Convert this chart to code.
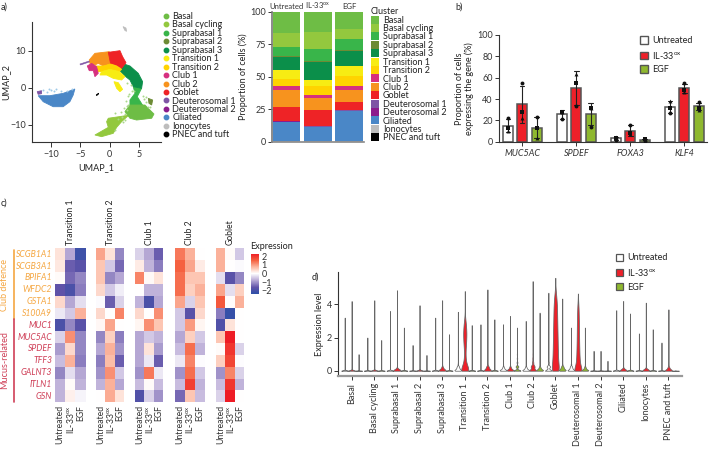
import numpy as np, pandas as pd, seaborn as sns
import matplotlib
matplotlib.use("Agg")
import matplotlib.pyplot as plt
from matplotlib.colors import LinearSegmentedColormap
from matplotlib.lines import Line2D
from matplotlib.patches import Patch

W, H = 709, 449
sns.set_theme(style="ticks")
FONT = "Lato"
plt.rcParams.update({"font.family": [FONT, "DejaVu Sans"], "font.size": 6.5, "mathtext.fontset": "custom",
                     "mathtext.rm": FONT, "mathtext.default": "regular", "axes.linewidth": 0.8,
                     "text.color": "#222222", "axes.labelcolor": "#222222", "xtick.color": "#333333",
                     "ytick.color": "#333333", "axes.edgecolor": "#333333",
                     "xtick.major.size": 3, "ytick.major.size": 3, "xtick.major.width": .7, "ytick.major.width": .7,
                     "xtick.major.pad": 2, "ytick.major.pad": 1.5})
FS = 6.5
OX = "IL-33$^{ox}$"

clusters = ["Basal", "Basal cycling", "Suprabasal 1", "Suprabasal 2", "Suprabasal 3", "Transition 1", "Transition 2",
            "Club 1", "Club 2", "Goblet", "Deuterosomal 1", "Deuterosomal 2", "Ciliated", "Ionocytes", "PNEC and tuft"]
cluster_colors = ["#6ebd45", "#93c83e", "#39b54a", "#6d8b35", "#0b8f4a", "#f7ec13", "#ffd300", "#d6307f", "#f7931e",
                  "#ee2326", "#7f55a5", "#8c1c8c", "#4a87c7", "#bdbdbd", "#000000"]
conditions = ["Untreated", OX, "EGF"]
cond_colors = ["#ffffff", "#ee2029", "#8fb82f"]

# a) UMAP cluster outlines, in UMAP units
umap_shapes = {
    "Basal cycling": [(-.23,-8.3),(2.34,-7.7),(3.31,-7.42),(2.05,-9.23),(1.2,-10.77),(.62,-12.4),(-1.38,-13.3),(-2.52,-12.85),(-.23,-10.77),(-.52,-9.23)],
    "Suprabasal 1": [(4.05,.28),(5.48,-.17),(4.74,-2.44),(6.34,-6.5),(3.48,-5.6),(3.48,-3.34),(4.34,-1.53)],
    "Basal": [(3.48,-4.7),(6.05,-4.7),(7.6,-7.15),(7.2,-8.3),(4.62,-8.78),(3.48,-8.3),(2.62,-6.5)],
    "Suprabasal 2": [(6.62,-2.9),(7.37,-3.34),(7.2,-4.7),(6.74,-4.25)],
    "Suprabasal 3": [(2.45,6.44),(3.48,5.9),(4.91,3.9),(5.65,1.64),(5.48,-.17),(4.05,.28),(3.48,2.09),(2.62,3.18),(1.65,4.81),(2.05,5.26)],
    "Club 2": [(-3.49,7.53),(-2.52,9.34),(-.06,9.79),(.17,6.44),(-1.09,5.9),(-1.95,6.62),(-2.52,6.17),(-3.38,6.62)],
    "Goblet": [(-.23,9.61),(1.77,10.06),(2.22,8.43),(2.8,6.8),(2.05,5.26),(.91,6.17),(.17,6.44)],
    "Transition 2": [(-2.52,5.9),(-1.09,5.9),(.17,6.44),(1.2,5.9),(2.05,4.99),(1.65,4.36),(.05,4.99),(-1.38,4.36),(-2.23,4.36)],
    "Transition 1": [(-1.38,4.36),(.05,4.99),(1.65,4.36),(2.62,3),(2.05,2.09),(.62,2.54),(-.52,3.45),(-1.66,3.45)],
    "Club 1": [(-3.83,5.9),(-3.09,6.62),(-2.23,5.71),(-1.95,3.9),(-2.52,3),(-2.8,4.63),(-3.49,4.63)],
    "Deuterosomal 1": [(-12.41,-1.08),(-11.67,-.81),(-11.67,-1.62),(-12.24,-1.8)],
    "Ciliated": [(-12.24,-2.17),(-10.24,-2.17),(-7.96,-1.53),(-5.96,-.35),(-6.24,-1.98),(-6.81,-3.8),(-7.96,-5.16),(-9.67,-5.16),(-11.38,-3.8)],
    "Ionocytes": [(2.3,16.6),(2.8,16.2),(2.9,15.3),(2.6,15.6)],
    "PNEC and tuft": [(-2.3,-2),(-1.9,-1.5),(-1.9,-1.7),(-2.2,-2.1)],
}
yellow_blob = [(.74,1.64),(1.48,1.37),(2.22,-.45),(1.77,-1.08),(1.2,-.17)]
deut_tail = [(-5.09,6.44),(-3.49,7.26),(-3.49,6.98),(-4.98,6.17)]
sparse_x = [-11.4,-10.8,-10.4,-10,-9.6,-9.2,-8.4,-7.3,-6.4]
sparse_y = [-.7,-1.2,-.4,-.5,-.8,-.4,-.9,-.8,-.3]
pale_x = [2.8,3.1,3.2,2.4,2.9,3.3,3.9,4.2,5.9,6.3,6.6,2.6,2.0,2.3,.9,1.5,2.7,3.0,2.2,6.2,5.8,7.0,3.6,3.0,1.0]
pale_y = [-3.5,-2.2,-4.8,-5.5,-6,-1.6,-1.0,-.9,-3.2,-3.9,-5.2,-7.1,-6.6,-9.2,-7.0,-8.4,-8.8,-5.0,-8.0,-2.6,-2.3,-5.2,.7,1.2,-11.5]

# a) composition, % per cluster
comp = {"Untreated": [17.0,11.0,6.6,.8,10.2,6.9,5.7,2.8,13.0,10.5,.4,.3,15.2,.2,.1],
        OX: [15.6,13.4,9.2,.8,13.3,4.7,7.4,2.0,9.2,12.7,.4,.3,10.9,.1,.1],
        "EGF": [13.3,7.7,8.2,.8,11.5,8.0,7.7,2.8,9.2,6.8,.4,.3,23.2,.1,.1]}

# b) replicate values
genes = ["MUC5AC", "SPDEF", "FOXA3", "KLF4"]
rep_values = {
    "o": [22,55,23, 21,33,14, 2,16,.5, 27,55,37],
    "s": [13,28,13, 28,55,32, 3,8,2.5, 32,48,32],
    "^": [10,22,3, 28,63,32, 4,7,.5, 38,47,30],
}

# c) scaled expression per panel: rows are genes, columns Untreated / IL-33ox / EGF
hm_genes = ["SCGB1A1","SCGB3A1","BPIFA1","WFDC2","GSTA1","S100A9","MUC1","MUC5AC","SPDEF","TFF3","GALNT3","ITLN1","GSN"]
hm = {
 "Transition 1": [[.3,-.8,-2.1],[.25,-1.5,-1.7],[.05,-1.4,-1.1],[-1.6,-1.9,-1.2],[.4,-.8,-.3],[-.2,-.5,.8],[-1.9,-1.1,-1.7],
                  [-.4,1.1,-1.1],[-.9,.4,-1.1],[-.6,.8,-1.2],[-1.1,-.3,-.8],[-.7,.05,-.7],[-.7,.15,-.1]],
 "Transition 2": [[.9,.3,-1.1],[.6,-.5,-1.4],[.6,-1.1,-.8],[.4,-.5,-.15],[-.05,-1.5,-.4],[.4,0,1.2],[.08,.9,0],
                  [-1.1,.5,-1.2],[-.8,.8,-1],[-1.2,.7,-1.5],[-1,1.1,-.5],[-.7,.8,-.8],[0,.85,.3]],
 "Club 1": [[-.4,-.8,-1.5],[.2,-.7,-1.2],[1.2,.07,.3],[0,-.7,-.7],[-.7,-1.9,-.8],[.4,0,1.1],[.1,1.1,.6],
            [-.8,-.5,-.7],[-.8,.3,-.9],[-.8,-.2,-1.5],[-1,1.3,-.2],[-.6,.05,-.6],[-1.8,-.4,-1]],
 "Club 2": [[1.3,.8,0],[1.5,.9,.2],[1.4,.6,.6],[1.4,.5,.8],[.9,-.4,.6],[-.5,-1.7,.4],[-.5,1.0,.1],
            [-.8,.5,-.5],[-.6,1.4,-.7],[-.2,1.2,-.03],[-1,1.4,-.5],[-.6,1.9,-.7],[-1.4,.6,-.6]],
 "Goblet": [[.8,.05,-.5],[.8,0,-.05],[-.3,-1.7,-1.1],[.9,-.3,.5],[1.6,.03,.8],[-1.2,-2.2,0],[-1.8,.3,0],
            [.6,2.3,0],[.05,2,-.4],[.5,1.8,-.03],[-1,1.2,-.4],[-.6,2,-.7],[-.4,2.3,0]],
}
hm_boxes = {"Transition 1": (55,85.7), "Transition 2": (96,124.3), "Club 1": (135,163.3), "Club 2": (174.7,205), "Goblet": (215.7,244.3)}

# d) highest expression per cluster (Untreated, IL-33ox, EGF)
spike_tops = [[3.2,4.2,1.0],[2.0,4.25,1.85],[3.6,4.85,2.6],[1.55,3.95,.95],[3.2,4.25,2.2],[3.55,4.8,2.75],[2.8,4.9,3.1],
              [2.8,3.3,2.6],[3.0,5.4,3.5],[4.7,5.6,4.35],[2.6,4.65,2.6],[1.2,1.2,.6],[3.65,4.2,3.45],[2.25,4.1,2.5],[1.7,3.7,.02]]
# d) cell counts per expression level for the clusters with real expression
fine_levels = [0,.03,.06,.1,.15,.2,.25,.3,.4,.5]
coarse_levels = [0,.25,.5,.75,1,1.25,1.5,1.75,2,2.25,2.5,2.75,3,3.25,3.5,3.75,4,4.25,4.5,4.75,5,5.25]
tri_tiny = [40,10,2,0,0,0,0,0,0,0]
tri_small = [60,45,30,18,8,2,0,0,0,0]
tri_mid = [60,52,45,36,28,20,12,6,2,0]
tri_big = [60,55,50,44,38,32,26,20,10,3]
fine_bodies = {(2,1):tri_small,(4,1):tri_mid,(5,0):tri_big,(7,0):tri_mid,(7,1):tri_mid,(8,0):tri_mid,(8,2):tri_mid,
               (9,2):tri_big,(10,0):tri_big,(10,2):tri_mid,(12,1):tri_tiny,(13,1):tri_tiny,(14,1):tri_mid,(6,1):tri_big}
coarse_bodies = {
 (5,1): [100,70,35,22,18,20,26,32,36,38,34,28,18,8,3,1],
 (9,1): [100,85,75,68,65,62,60,58,56,54,52,50,48,46,44,42,38,32,24,14,6,2],
 (10,1): [100,60,42,36,32,30,28,26,25,24,23,22,20,18,16,14,10,5,2],
 (9,0): [100,50,14,6,3,2,1],
 (8,1): [100,55,18,10,7,5,4,3,2,1],
 (7,2): [100,40,12,7,5,3,2],
}

# ---------------------------------------------------------------------------------------------
fig = plt.figure(figsize=(W/100, H/100), dpi=100, facecolor="white")
def axpx(x0, y0, x1, y1):
    return fig.add_axes([x0/W, 1-y1/H, (x1-x0)/W, (y1-y0)/H])
def ftext(x, y, s, **k):
    k.setdefault("fontsize", FS); k.setdefault("va", "center")
    fig.text(x/W, 1-y/H, s, **k)
def anchor(x, y):
    return (x/W, 1-y/H)

for s, x, y in [("a)",1,7),("b)",455,7),("c)",1,203),("d)",312,277)]:
    ftext(x, y, s)

# a) UMAP
ax = axpx(32, 22, 161, 142)
col = dict(zip(clusters, cluster_colors))
for name, pts in umap_shapes.items():
    p = np.array(pts); ax.fill(p[:,0], p[:,1], color=col[name], lw=.6)
ax.fill(*np.array(yellow_blob).T, color=col["Transition 1"], lw=.6)
ax.fill(*np.array(deut_tail).T, color=col["Deuterosomal 1"], lw=.4)
sns.scatterplot(x=sparse_x, y=sparse_y, s=2, color="#9fc9e8", linewidth=0, ax=ax)
sns.scatterplot(x=pale_x, y=pale_y, s=2, color="#a9d88a", linewidth=0, ax=ax)
ax.set_xlim(-13.3, 8.8); ax.set_ylim(-14.75, 17.85)
ax.set_xticks([-10,-5,0,5]); ax.set_xticklabels(["−10","−5","0","5"]); ax.set_yticks([-10,0,10]); ax.set_yticklabels(["−10","0","10"])
ax.tick_params(labelsize=FS)
ax.tick_params(axis="x", length=3.6, pad=2.5)
sns.despine(ax=ax)
ax.set_xlabel("UMAP_1", fontsize=FS, labelpad=2.5); ax.set_ylabel("UMAP_2", fontsize=FS, labelpad=0)
h = [Line2D([],[],ls="",marker="o",ms=3.2,mfc=c,mec=c) for c in cluster_colors]
fig.legend(h, clusters, loc="upper left", bbox_to_anchor=anchor(161,12), bbox_transform=fig.transFigure, frameon=False,
           fontsize=FS, borderpad=0, borderaxespad=0, labelspacing=-.06, handlelength=1, handletextpad=.25)

# a) stacked bars
ax = axpx(272, 11.7, 363.5, 141.7)
bottom = np.zeros(3)
for i, c in enumerate(clusters[::-1]):
    v = np.array([comp[k][len(clusters)-1-i] for k in conditions])
    sns.barplot(x=conditions, y=v, bottom=bottom, color=cluster_colors[len(clusters)-1-i], saturation=1, width=.88, ax=ax, linewidth=0)
    bottom += v
ax.set_xlim(-.457, 2.46); ax.set_ylim(0, 100)
ax.set_yticks([0,25,50,75,100]); ax.tick_params(labelsize=FS)
ax.xaxis.tick_top(); ax.tick_params(axis="x", length=0, labelsize=5.5, pad=1)
sns.despine(ax=ax)
ax.spines["bottom"].set_color("#888888"); ax.spines["bottom"].set_linewidth(1.2)
ax.spines["left"].set_color("#777777"); ax.spines["left"].set_linewidth(1.2)
ax.set_ylabel("Proportion of cells (%)", fontsize=FS, labelpad=1.5)
ftext(371, 11, "Cluster")
h = [Patch(fc=c, ec="none") for c in cluster_colors]
fig.legend(h, clusters, loc="upper left", bbox_to_anchor=anchor(371,15.5), bbox_transform=fig.transFigure, frameon=False,
           fontsize=FS, borderpad=0, borderaxespad=0, labelspacing=-.08, handlelength=.9, handleheight=1, handletextpad=.4)

# b) bars
ax = axpx(499, 35, 707, 141.7)
recs = []
for mk, vals in rep_values.items():
    for j, v in enumerate(vals):
        recs.append((genes[j//3], conditions[j%3], mk, v))
dfb = pd.DataFrame(recs, columns=["gene","cond","rep","val"])
sns.barplot(data=dfb, x="gene", y="val", hue="cond", order=genes, hue_order=conditions, palette=dict(zip(conditions,cond_colors)),
            saturation=1, errorbar="sd", capsize=.25, err_kws={"linewidth":.8,"color":"#222222"}, width=.8, gap=.3,
            edgecolor="#555555", linewidth=1.1, legend=False, ax=ax)
for mk in rep_values:
    sns.stripplot(data=dfb[dfb.rep==mk], x="gene", y="val", hue="cond", order=genes, hue_order=conditions, dodge=True, jitter=False,
                  marker=mk, size=2.8, palette=["#111111"]*3, legend=False, ax=ax)
ax.set_xlim(-.43, 3.42); ax.set_ylim(0, 100)
ax.set_yticks(range(0,101,20)); ax.tick_params(labelsize=FS)
ax.set_xlabel(""); ax.set_ylabel("Proportion of cells\nexpressing the gene (%)", fontsize=FS, labelpad=2, linespacing=1.05)
for t in ax.get_xticklabels(): t.set_fontstyle("italic")
sns.despine(ax=ax)
h = [Patch(fc=c, ec="#555555", lw=1) for c in cond_colors]
fig.legend(h, conditions, loc="upper left", bbox_to_anchor=anchor(640,36), bbox_transform=fig.transFigure, frameon=False,
           fontsize=FS, borderpad=0, borderaxespad=0, labelspacing=.5, handlelength=.9, handleheight=.9, handletextpad=.45)

# c) heatmaps
cmap = LinearSegmentedColormap.from_list("expr", [(0,"#3050a8"),(.15,"#5f52a8"),(.34,"#bcaed8"),(.5,"#ffffff"),
                                                  (.66,"#fcb9a2"),(.83,"#f5603f"),(1,"#ee1c25")])
cax = axpx(250.7, 253.5, 259.3, 293.5)
for i, (name, vals) in enumerate(hm.items()):
    x0, x1 = hm_boxes[name]
    ax = axpx(x0, 248.3, x1, 402.3)
    d = pd.DataFrame(vals, index=hm_genes, columns=conditions)
    sns.heatmap(d, ax=ax, cmap=cmap, vmin=-2.3, vmax=2.3, cbar=i==0, cbar_ax=cax if i==0 else None, xticklabels=True, yticklabels=i==0)
    ax.tick_params(length=0, labelsize=FS-.3, pad=2)
    ax.set_xticklabels(conditions, rotation=90)
    ax.text(1.5, -.25, name, rotation=90, ha="center", va="bottom", fontsize=FS-.3)
    if i == 0:
        for k, t in enumerate(ax.get_yticklabels()):
            t.set_rotation(0); t.set_fontstyle("italic"); t.set_color("#f5a742" if k < 6 else "#cf4058")
    else:
        ax.set_ylabel("")
cax.set_yticks([-2,-1,0,1,2]); cax.set_yticklabels(["−2","−1","0","1","2"])
cax.tick_params(length=0, labelsize=FS, pad=1.5)
ftext(250.5, 246, "Expression")
fig.add_artist(Line2D([14/W,14/W],[1-250/H,1-319/H],color="#f5a742",lw=1.2))
fig.add_artist(Line2D([14/W,14/W],[1-319/H,1-401.7/H],color="#cf4058",lw=1.2))
ftext(5, 285, "Club defence", rotation=90, ha="center", color="#f5a742")
ftext(5, 360, "Mucus-related", rotation=90, ha="center", color="#cf4058")

# d) violins
vals_c, vals_h, vals_y = [], [], []
for ci, c in enumerate(clusters):
    for hi, k in enumerate(conditions):
        top = spike_tops[ci][hi]
        if (ci,hi) in fine_bodies:
            y = np.repeat(fine_levels, fine_bodies[(ci,hi)])
        elif (ci,hi) in coarse_bodies:
            cnt = coarse_bodies[(ci,hi)]
            y = np.repeat(coarse_levels[:len(cnt)], cnt)
        else:
            y = np.zeros(300)
        y = np.append(y, top)
        vals_y.extend(y); vals_c.extend([c]*len(y)); vals_h.extend([k]*len(y))
dfv = pd.DataFrame({"cluster":vals_c, "cond":vals_h, "expr":vals_y})
ax = axpx(338.3, 272, 682, 375.7)
sns.violinplot(data=dfv, x="cluster", y="expr", hue="cond", order=clusters, hue_order=conditions, palette=dict(zip(conditions,cond_colors)),
               saturation=1, inner=None, cut=0, density_norm="width", common_norm=False, bw_method=.15, width=.92, gap=0, dodge=True,
               linewidth=.55, linecolor="#666666", legend=False, ax=ax)
ax.set_xlim(-.59, 14.6); ax.set_ylim(-.3, 5.95)
ax.set_yticks([0,2,4]); ax.tick_params(labelsize=FS)
ax.tick_params(axis="x", rotation=90, labelsize=FS)
ax.set_xlabel(""); ax.set_ylabel("Expression level", fontsize=FS, labelpad=2)
sns.despine(ax=ax)
ax.spines["bottom"].set_color("#999999"); ax.spines["bottom"].set_linewidth(1.6)
h = [Patch(fc=c, ec="#555555", lw=.9) for c in cond_colors]
fig.legend(h, conditions, loc="upper left", bbox_to_anchor=anchor(615.7,253.5), bbox_transform=fig.transFigure, frameon=False,
           fontsize=FS, borderpad=0, borderaxespad=0, labelspacing=.5, handlelength=.85, handleheight=.85, handletextpad=.45)

fig.savefig("out.png", dpi=100, facecolor="white")
